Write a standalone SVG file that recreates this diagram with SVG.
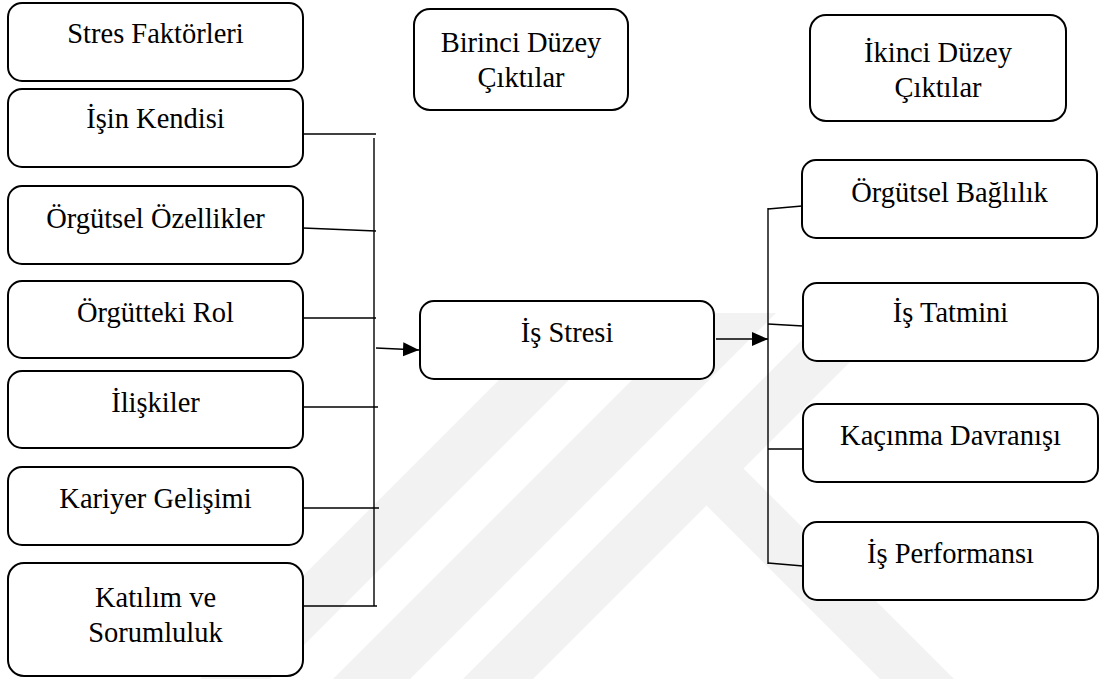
<svg xmlns="http://www.w3.org/2000/svg" width="1105" height="679" viewBox="0 0 1105 679">
  <defs>
    <style>
      .box { fill: #ffffff; stroke: #000000; stroke-width: 2; }
      .wire { fill: none; stroke: #000000; stroke-width: 1.4; }
      .mark { fill: #f2f2f2; }
    </style>
    <marker id="arrow" markerUnits="userSpaceOnUse" markerWidth="17" markerHeight="15" refX="16" refY="7" orient="auto">
      <path d="M0,0 L16,7 L0,14 Z" fill="#000000"/>
    </marker>
    <clipPath id="markClip">
      <rect x="0" y="313" width="1105" height="366"/>
    </clipPath>
  </defs>

  <rect x="0" y="0" width="1105" height="679" fill="#ffffff"/>

  <!-- faint background emblem: diagonal bands -->
  <g id="emblem" clip-path="url(#markClip)">
    <polygon class="mark" points="200,679 270,679 636,313 566,313"/>
    <polygon class="mark" points="333,679 410,679 776,313 699,313"/>
    <polygon class="mark" points="463,679 533,679 899,313 829,313"/>
    <polygon class="mark" points="730,455 954,679 880,679 695,494"/>
  </g>

  <!-- connectors -->
  <g id="connectors">
    <!-- stress factors joined on a common bus -->
    <line class="wire" x1="303" y1="134" x2="376" y2="134"/>
    <line class="wire" x1="303" y1="228" x2="376" y2="231"/>
    <line class="wire" x1="303" y1="318" x2="376" y2="318"/>
    <line class="wire" x1="303" y1="407" x2="378" y2="407"/>
    <line class="wire" x1="303" y1="508" x2="379" y2="508"/>
    <line class="wire" x1="303" y1="606" x2="377" y2="606"/>
    <line class="wire" x1="374" y1="138" x2="374" y2="606"/>
    <line class="wire" x1="376" y1="348" x2="419" y2="350" marker-end="url(#arrow)"/>
    <!-- job stress to outcome bus -->
    <line class="wire" x1="716" y1="339" x2="768" y2="339" marker-end="url(#arrow)"/>
    <line class="wire" x1="768" y1="208" x2="768" y2="564"/>
    <line class="wire" x1="768" y1="209" x2="802" y2="206"/>
    <line class="wire" x1="768" y1="324" x2="803" y2="326"/>
    <line class="wire" x1="768" y1="449" x2="803" y2="449"/>
    <line class="wire" x1="768" y1="563" x2="803" y2="566"/>
  </g>

  <g id="nodes" font-family="'Liberation Serif', 'Times New Roman', serif" font-size="28.5" fill="#000000" text-anchor="middle">
    <!-- left column -->
    <g id="stres-faktorleri">
      <rect class="box" x="8" y="3" width="295" height="78" rx="14"/>
      <text x="155.5" y="43">Stres Faktörleri</text>
    </g>
    <g id="isin-kendisi">
      <rect class="box" x="8" y="89" width="295" height="78" rx="14"/>
      <text x="155.5" y="128">İşin Kendisi</text>
    </g>
    <g id="orgutsel-ozellikler">
      <rect class="box" x="8" y="186" width="295" height="78" rx="14"/>
      <text x="155.5" y="228">Örgütsel Özellikler</text>
    </g>
    <g id="orgutteki-rol">
      <rect class="box" x="8" y="281" width="295" height="77" rx="14"/>
      <text x="155.5" y="322">Örgütteki Rol</text>
    </g>
    <g id="iliskiler">
      <rect class="box" x="8" y="371" width="295" height="77" rx="14"/>
      <text x="155.5" y="412">İlişkiler</text>
    </g>
    <g id="kariyer-gelisimi">
      <rect class="box" x="8" y="467" width="295" height="78" rx="14"/>
      <text x="155.5" y="508">Kariyer Gelişimi</text>
    </g>
    <g id="katilim-sorumluluk">
      <rect class="box" x="8" y="563" width="295" height="113" rx="16"/>
      <text x="155.5" y="607">Katılım ve</text>
      <text x="155.5" y="642">Sorumluluk</text>
    </g>

    <!-- headings -->
    <g id="birinci-duzey">
      <rect class="box" x="414" y="9" width="214" height="101" rx="16"/>
      <text x="521" y="52">Birinci Düzey</text>
      <text x="521" y="87">Çıktılar</text>
    </g>
    <g id="ikinci-duzey">
      <rect class="box" x="810" y="15" width="256" height="106" rx="16"/>
      <text x="938" y="62">İkinci Düzey</text>
      <text x="938" y="97">Çıktılar</text>
    </g>

    <!-- centre -->
    <g id="is-stresi">
      <rect class="box" x="420" y="301" width="294" height="78" rx="14"/>
      <text x="567" y="342">İş Stresi</text>
    </g>

    <!-- outcomes -->
    <g id="orgutsel-baglilik">
      <rect class="box" x="802" y="160" width="295" height="78" rx="14"/>
      <text x="949.5" y="202">Örgütsel Bağlılık</text>
    </g>
    <g id="is-tatmini">
      <rect class="box" x="803" y="283" width="295" height="78" rx="14"/>
      <text x="950.5" y="322">İş Tatmini</text>
    </g>
    <g id="kacinma-davranisi">
      <rect class="box" x="803" y="404" width="295" height="78" rx="14"/>
      <text x="950.5" y="445">Kaçınma Davranışı</text>
    </g>
    <g id="is-performansi">
      <rect class="box" x="803" y="522" width="295" height="78" rx="14"/>
      <text x="950.5" y="563">İş Performansı</text>
    </g>
  </g>
</svg>
